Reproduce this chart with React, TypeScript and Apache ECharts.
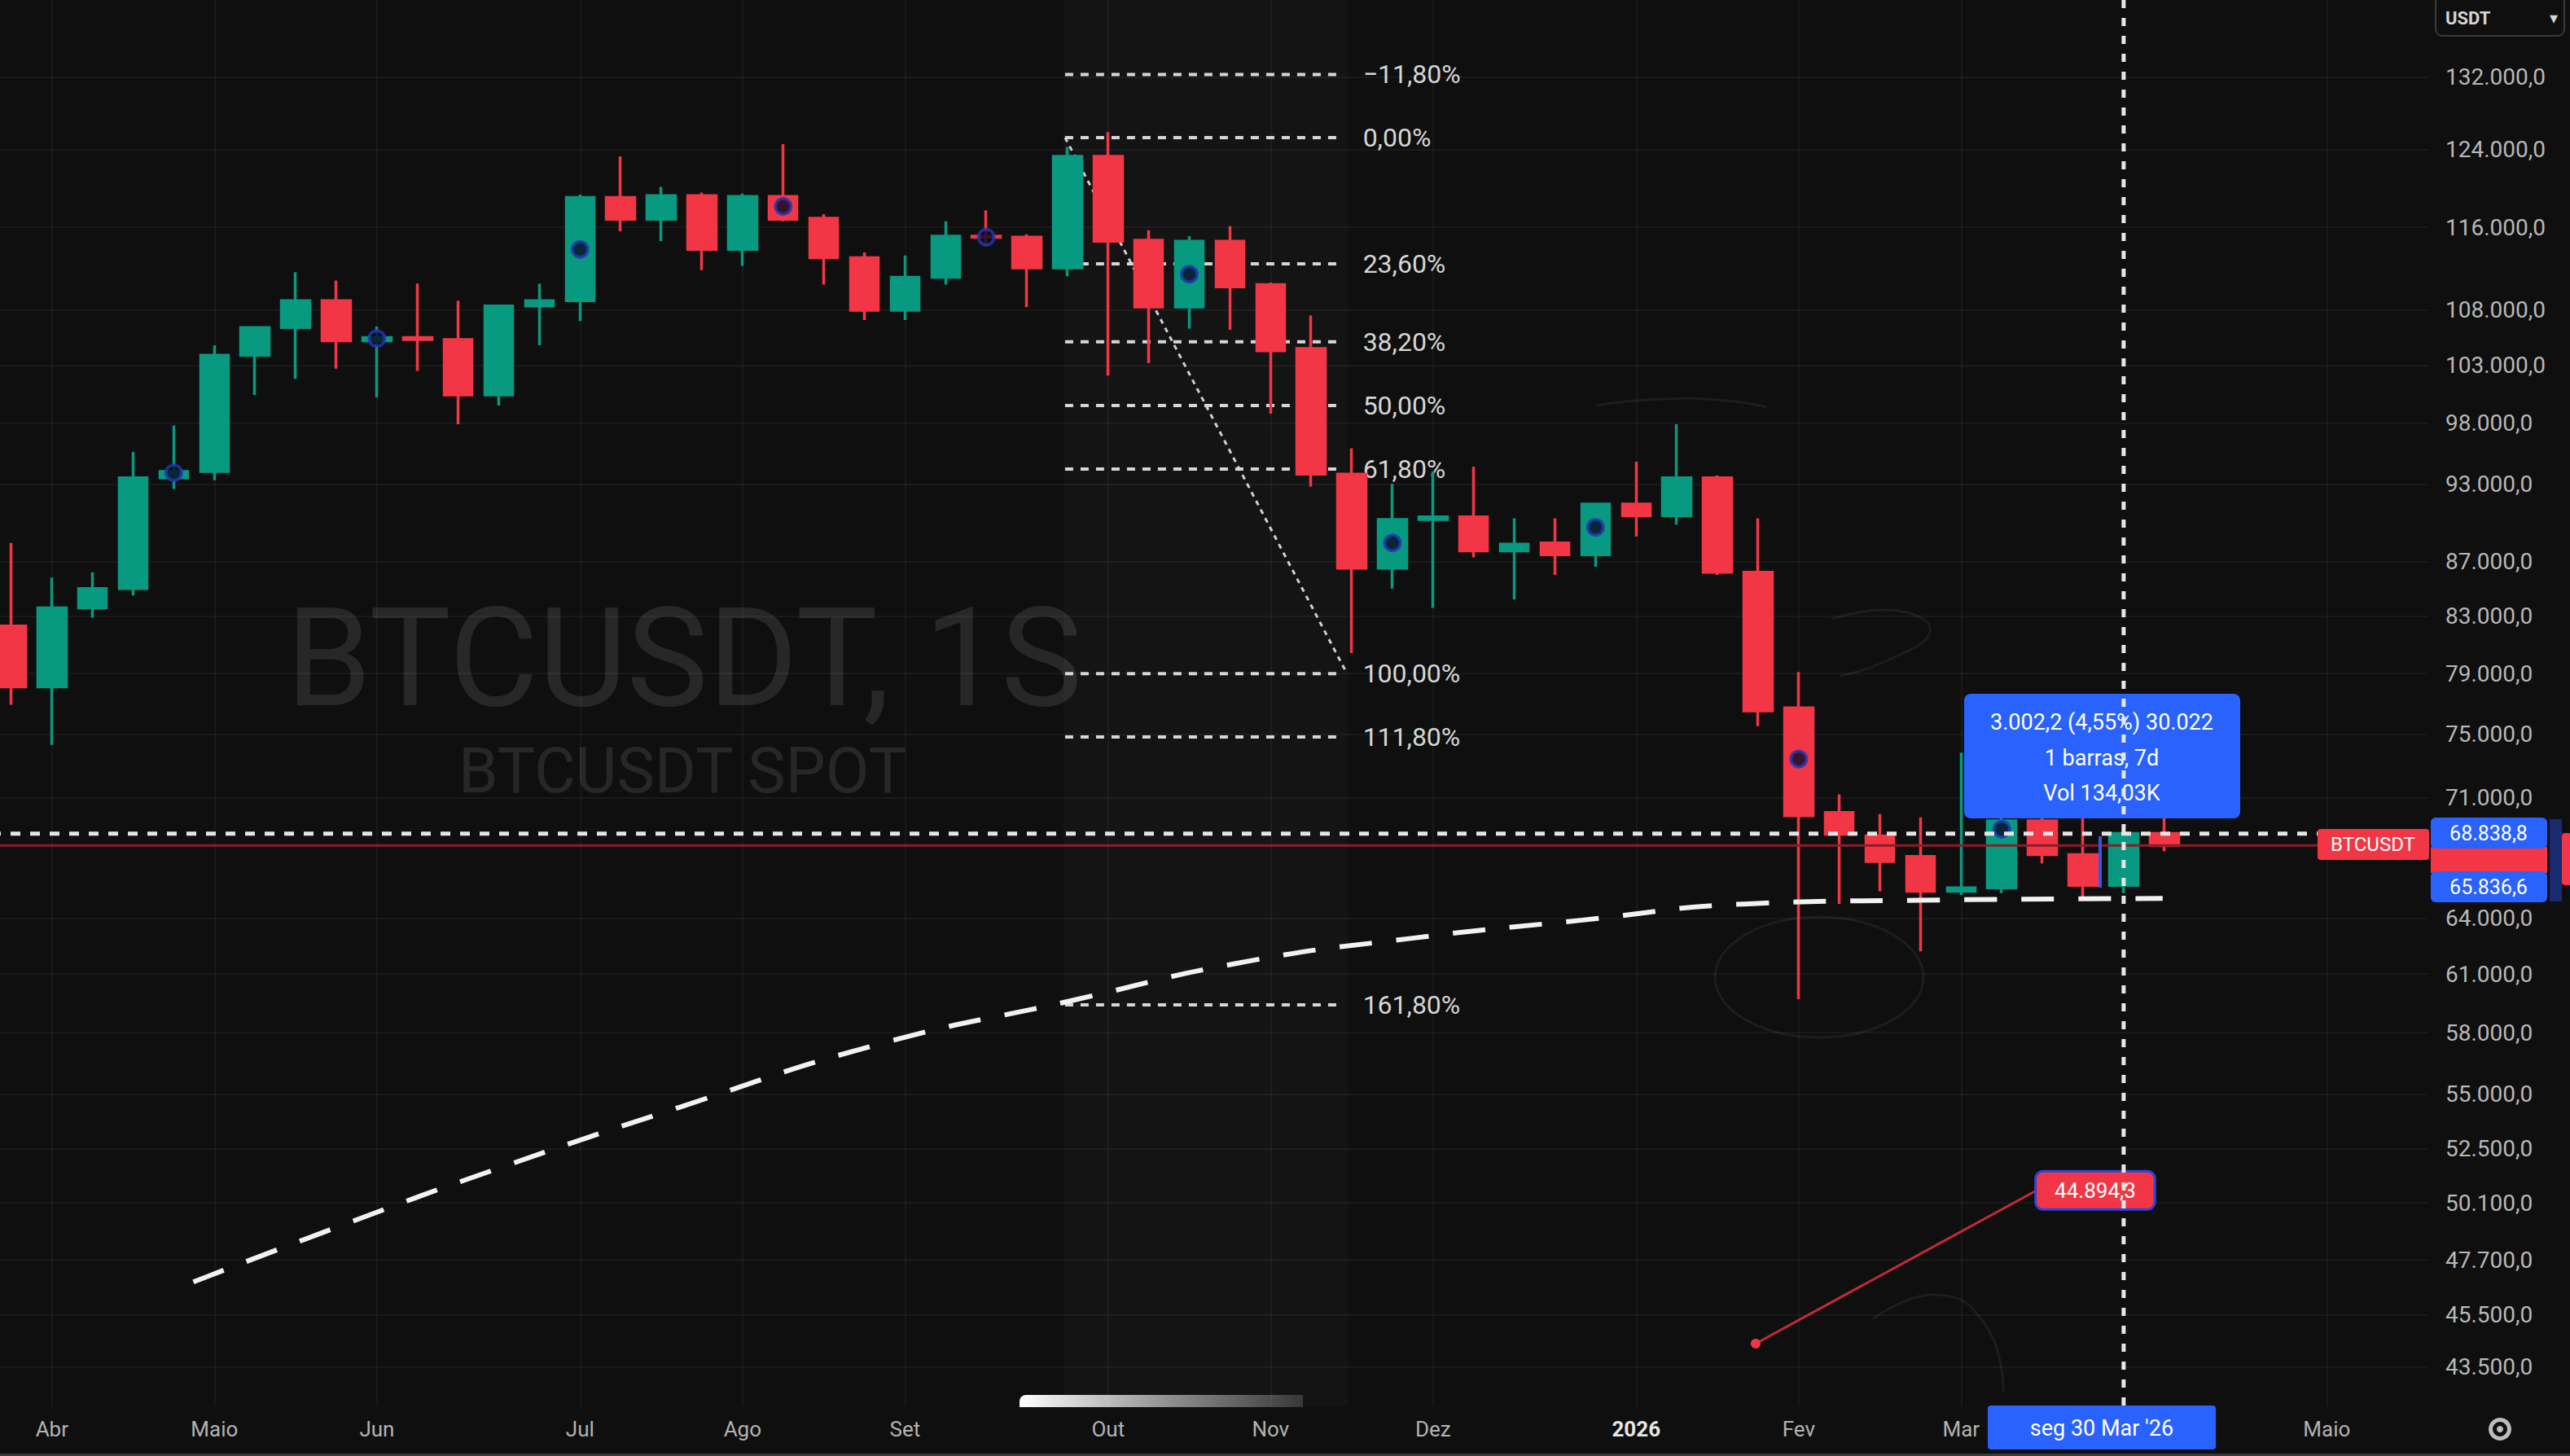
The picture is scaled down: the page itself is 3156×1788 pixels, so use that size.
import React, { useEffect, useRef } from 'react';
import * as echarts from 'echarts';

// Weekly bars (Monday dates)
const weeks = [
  '2025-03-31', '2025-04-07', '2025-04-14', '2025-04-21', '2025-04-28', '2025-05-05', '2025-05-12', '2025-05-19', '2025-05-26',
  '2025-06-02', '2025-06-09', '2025-06-16', '2025-06-23', '2025-06-30', '2025-07-07', '2025-07-14', '2025-07-21', '2025-07-28',
  '2025-08-04', '2025-08-11', '2025-08-18', '2025-08-25', '2025-09-01', '2025-09-08', '2025-09-15', '2025-09-22', '2025-09-29',
  '2025-10-06', '2025-10-13', '2025-10-20', '2025-10-27', '2025-11-03', '2025-11-10', '2025-11-17', '2025-11-24', '2025-12-01',
  '2025-12-08', '2025-12-15', '2025-12-22', '2025-12-29', '2026-01-05', '2026-01-12', '2026-01-19', '2026-01-26', '2026-02-02',
  '2026-02-09', '2026-02-16', '2026-02-23', '2026-03-02', '2026-03-09', '2026-03-16', '2026-03-23', '2026-03-30', '2026-04-06',
  '2026-04-13', '2026-04-20', '2026-04-27', '2026-05-04', '2026-05-11', '2026-05-18',
];

const opens = [
  82300, 78100, 83600, 85000, 93500, 94000, 103900, 106400, 108900, 105200, 105500, 105300, 100400, 108400, 108900,
  119000, 116800, 119200, 113800, 119100, 116900, 113000, 108000, 111100, 115100, 115000, 112000, 123300, 114700,
  108300, 114600, 110400, 104500, 93800, 86500, 90200, 90400, 87800, 88400, 87500, 91400, 90500, 93500, 86200,
  76700, 70100, 68700, 67500, 65500, 65700, 69600, 67600, 65840, 68840,
];
const highs = [
  88400, 85800, 86200, 95600, 97800, 104800, 106500, 111600, 110800, 106500, 110500, 108900, 108500, 110500, 119300,
  123300, 120100, 119500, 119400, 124600, 117300, 113500, 113200, 116600, 117700, 115300, 124300, 125900, 115700,
  115100, 116100, 110600, 107500, 95900, 93000, 94000, 94400, 90300, 90300, 91500, 94800, 97900, 93700, 90300,
  79100, 71200, 70000, 69800, 73800, 69900, 70000, 69900, 69300, 69900,
];
const lows = [
  76900, 74300, 82900, 84500, 92600, 93300, 100400, 101800, 102700, 100200, 102500, 97900, 99500, 104800, 107000,
  115600, 114600, 111800, 112200, 116600, 110400, 107100, 107100, 110400, 114200, 108300, 111200, 102100, 103200,
  106300, 106200, 98800, 92800, 80400, 85000, 83600, 87300, 84200, 86000, 86600, 88900, 89800, 86000, 75500,
  59700, 64800, 65500, 62200, 65300, 65400, 67100, 65100, 65400, 67800,
];
const closes = [
  78100, 83600, 85000, 93500, 94000, 103900, 106400, 108900, 105200, 105500, 105300, 100400, 108400, 108900, 119000,
  116800, 119200, 113800, 119100, 116800, 113000, 108000, 111100, 115100, 115000, 112000, 123300, 114600, 108300,
  114600, 110200, 104300, 93800, 86500, 90200, 90400, 87800, 88300, 87500, 91400, 90500, 93500, 86200, 76500,
  69900, 68800, 67200, 65500, 65700, 69600, 67600, 65840, 68840, 68140,
];

// Indicator markers (bar index, price)
const markerIdx = [4, 9, 14, 19, 24, 29, 34, 39, 44, 49];
const markerVal = [93900, 105400, 113800, 118100, 115000, 111400, 88400, 89600, 73400, 69100];

// Axis ticks
const priceTicks = [132000, 124000, 116000, 108000, 103000, 98000, 93000, 87000, 83000, 79000, 75000, 71000,
  64000, 61000, 58000, 55000, 52500, 50100, 47700, 45500, 43500];
const monthIdx = [1, 5, 9, 14, 18, 22, 27, 31, 35, 40, 44, 48, 57];
const monthNames = ['Abr', 'Maio', 'Jun', 'Jul', 'Ago', 'Set', 'Out', 'Nov', 'Dez', '2026', 'Fev', 'Mar', 'Maio'];

// Fibonacci retracement drawing
const fibStartX = 25.94;
const fibEndX = 32.71;
const fibPrices = [132300, 125300, 112400, 105100, 99500, 94200, 79000, 74800, 59400];
const fibTexts = ['−11,80%', '0,00%', '23,60%', '38,20%', '50,00%', '61,80%', '100,00%', '111,80%', '161,80%'];
const fibTrendX = [25.94, 32.88];
const fibTrendY = [125300, 79000];

// Big dashed curve (bar position, price)
const curveX = [4.48, 8.39, 11.82, 16.46, 21.3, 26.06, 30.25, 34.45, 38.68, 42.76, 46.95, 52.96];
const curveY = [46800, 49300, 51500, 54400, 57400, 59600, 61600, 62900, 63900, 64800, 65000, 65100];

// Crosshair & notes
const crossX = 52;
const crossPrice = 68838.8;
const measureLow = 65836.6;
const noteX = [42.94, 49.86];
const noteY = [44380, 50640];
const noteText = '44.894,3';

const Y_MIN = 42050;
const Y_MAX = 141050;
const FONT = 'Roboto, Inter, sans-serif';
const SHIFT = 11; // chart canvas starts 11px left of the page edge

const fmtPrice = (v: number) => {
  const [i, d] = v.toFixed(1).split('.');
  return i.replace(/\B(?=(\d{3})+(?!\d))/g, '.') + ',' + d;
};

const GREEN = '#089981';
const RED = '#f23645';
const BLUE = '#2962ff';

function buildOption() {
  const candles = opens.map((o, i) => [o, closes[i], lows[i], highs[i]]);
  const lastClose = closes[closes.length - 1];

  const fibSeries = fibPrices.map((p, k) => ({
    type: 'line',
    xAxisIndex: 1,
    yAxisIndex: 0,
    data: [[fibStartX, p], [fibEndX, p]],
    symbol: 'none',
    silent: true,
    z: 1,
    lineStyle: { color: '#d6d6d6', width: 4, type: [10, 9] },
    endLabel: {
      show: true,
      formatter: fibTexts[k],
      color: '#d6d6d6',
      fontSize: 32,
      fontFamily: FONT,
      distance: 28,
    },
  }));

  const children: any[] = [
    // watermark
    {
      type: 'text', z: -10, silent: true,
      style: { x: 840, y: 808, text: 'BTCUSDT, 1S', fill: 'rgba(255,255,255,0.10)', fontSize: 168, fontFamily: FONT, align: 'center', verticalAlign: 'middle' },
    },
    {
      type: 'text', z: -10, silent: true,
      style: { x: 838, y: 946, text: 'BTCUSDT SPOT', fill: 'rgba(255,255,255,0.10)', fontSize: 78, fontFamily: FONT, align: 'center', verticalAlign: 'middle' },
    },
    // time axis highlight blob
    {
      type: 'rect', z: 10, silent: true,
      shape: { x: 1252, y: 1713, width: 348, height: 15, r: [8, 0, 0, 0] },
      style: {
        fill: new echarts.graphic.LinearGradient(0, 0, 1, 0, [
          { offset: 0, color: 'rgba(255,255,255,1)' },
          { offset: 0.5, color: 'rgba(255,255,255,0.55)' },
          { offset: 1, color: 'rgba(255,255,255,0.15)' },
        ]),
      },
    },
    // measure tooltip
    {
      type: 'rect', z: 50, silent: true,
      shape: { x: 2412, y: 852, width: 339, height: 153, r: 8 },
      style: { fill: BLUE },
    },
    {
      type: 'text', z: 51, silent: true,
      style: { x: 2581, y: 887, text: '3.002,2 (4,55%) 30.022', fill: '#ffffff', fontSize: 27, fontFamily: FONT, align: 'center', verticalAlign: 'middle' },
    },
    {
      type: 'text', z: 51, silent: true,
      style: { x: 2581, y: 931, text: '1 barras, 7d', fill: '#ffffff', fontSize: 27, fontFamily: FONT, align: 'center', verticalAlign: 'middle' },
    },
    {
      type: 'text', z: 51, silent: true,
      style: { x: 2581, y: 974, text: 'Vol 134,03K', fill: '#ffffff', fontSize: 27, fontFamily: FONT, align: 'center', verticalAlign: 'middle' },
    },
    // measure marker line
    {
      type: 'line', z: 40, silent: true,
      shape: { x1: 2579, y1: 1027, x2: 2579, y2: 1090 },
      style: { stroke: '#3a55e0', lineWidth: 4 },
    },
    // BTCUSDT label
    {
      type: 'rect', z: 50, silent: true,
      shape: { x: 2846, y: 1018, width: 137, height: 38, r: 4 },
      style: { fill: RED },
    },
    {
      type: 'text', z: 51, silent: true,
      style: { x: 2914, y: 1037, text: 'BTCUSDT', fill: '#ffffff', fontSize: 24, fontFamily: FONT, align: 'center', verticalAlign: 'middle' },
    },
    // price axis labels
    {
      type: 'rect', z: 50, silent: true,
      shape: { x: 2985, y: 1040, width: 143, height: 32, r: 0 },
      style: { fill: RED },
    },
    {
      type: 'rect', z: 51, silent: true,
      shape: { x: 2985, y: 1004, width: 143, height: 38, r: 6 },
      style: { fill: BLUE },
    },
    {
      type: 'text', z: 52, silent: true,
      style: { x: 3056, y: 1023, text: fmtPrice(crossPrice), fill: '#ffffff', fontSize: 25, fontFamily: FONT, align: 'center', verticalAlign: 'middle' },
    },
    {
      type: 'rect', z: 51, silent: true,
      shape: { x: 2985, y: 1070, width: 143, height: 38, r: 6 },
      style: { fill: BLUE },
    },
    {
      type: 'text', z: 52, silent: true,
      style: { x: 3056, y: 1089, text: fmtPrice(measureLow), fill: '#ffffff', fontSize: 25, fontFamily: FONT, align: 'center', verticalAlign: 'middle' },
    },
    {
      type: 'rect', z: 50, silent: true,
      shape: { x: 3131, y: 1006, width: 15, height: 101 },
      style: { fill: '#1a2a6e' },
    },
    {
      type: 'rect', z: 50, silent: true,
      shape: { x: 3146, y: 1023, width: 12, height: 64, r: 4 },
      style: { fill: RED },
    },
    // date label
    {
      type: 'rect', z: 50, silent: true,
      shape: { x: 2441, y: 1726, width: 280, height: 54, r: 4 },
      style: { fill: BLUE },
    },
    {
      type: 'text', z: 51, silent: true,
      style: { x: 2581, y: 1754, text: "seg 30 Mar '26", fill: '#ffffff', fontSize: 27, fontFamily: FONT, align: 'center', verticalAlign: 'middle' },
    },
    // USDT selector
    {
      type: 'rect', z: 50, silent: true,
      shape: { x: 2991, y: -6, width: 158, height: 50, r: 8 },
      style: { fill: '#0f0f0f', stroke: '#3a3a3a', lineWidth: 2 },
    },
    {
      type: 'text', z: 51, silent: true,
      style: { x: 3003, y: 22, text: 'USDT', fill: '#d4d4d4', fontSize: 22, fontWeight: 'bold', fontFamily: FONT, align: 'left', verticalAlign: 'middle' },
    },
    {
      type: 'text', z: 51, silent: true,
      style: { x: 3136, y: 22, text: '▾', fill: '#d4d4d4', fontSize: 20, fontFamily: FONT, align: 'center', verticalAlign: 'middle' },
    },
    // gear icon
    {
      type: 'ring', z: 50, silent: true,
      shape: { cx: 3070, cy: 1755, r: 14, r0: 9 },
      style: { fill: '#bdbdbd' },
    },
    {
      type: 'circle', z: 50, silent: true,
      shape: { cx: 3070, cy: 1755, r: 4 },
      style: { fill: '#bdbdbd' },
    },
    // bottom border
    {
      type: 'rect', z: 50, silent: true,
      shape: { x: 0, y: 1785, width: 3156, height: 3 },
      style: { fill: '#3a3a3a' },
    },
    // faint hand drawings
    {
      type: 'ellipse', z: -5, silent: true,
      shape: { cx: 2234, cy: 1200, rx: 128, ry: 74 },
      style: { fill: 'none', stroke: '#1d1d1d', lineWidth: 3 },
    },
    {
      type: 'polyline', z: -5, silent: true,
      shape: { points: [[1960, 498], [2040, 490], [2120, 492], [2170, 500]], smooth: 0.5 },
      style: { fill: 'none', stroke: '#1d1d1d', lineWidth: 3 },
    },
    {
      type: 'polyline', z: -5, silent: true,
      shape: { points: [[2250, 760], [2330, 750], [2370, 775], [2320, 810], [2260, 830]], smooth: 0.5 },
      style: { fill: 'none', stroke: '#1d1d1d', lineWidth: 3 },
    },
    {
      type: 'polyline', z: -5, silent: true,
      shape: { points: [[2300, 1620], [2380, 1590], [2440, 1630], [2460, 1710]], smooth: 0.5 },
      style: { fill: 'none', stroke: '#1d1d1d', lineWidth: 3 },
    },
  ];

  return {
    animation: false,
    backgroundColor: '#0f0f0f',
    textStyle: { fontFamily: FONT },
    grid: { left: 0, right: 174, top: 0, bottom: 61 },
    xAxis: [
      {
        type: 'category',
        data: weeks,
        boundaryGap: true,
        axisLine: { show: false },
        axisTick: { show: false },
        splitLine: { show: false },
        axisLabel: {
          interval: 0,
          color: '#b3b3b3',
          fontSize: 26,
          fontFamily: FONT,
          margin: 15,
          formatter: (_v: string, idx: number) => {
            const k = monthIdx.indexOf(idx);
            if (k < 0) return '';
            return monthNames[k] === '2026' ? '{y|2026}' : monthNames[k];
          },
          rich: { y: { color: '#e6e6e6', fontWeight: 'bold', fontSize: 26, fontFamily: FONT } },
        },
      },
      {
        type: 'value',
        position: 'top',
        min: -0.5,
        max: weeks.length - 0.5,
        axisLine: { show: false },
        axisLabel: { show: false },
        axisTick: { show: false, customValues: monthIdx },
        splitLine: { show: true, lineStyle: { color: 'rgba(255,255,255,0.045)', width: 2 } },
      },
    ],
    yAxis: [
      {
        type: 'log',
        logBase: 10,
        position: 'right',
        min: Y_MIN,
        max: Y_MAX,
        axisLine: { show: false },
        axisTick: { show: false, customValues: priceTicks },
        axisLabel: {
          customValues: priceTicks,
          formatter: (v: number) => fmtPrice(v),
          color: '#b8b8b8',
          fontSize: 28,
          fontFamily: FONT,
          margin: 21,
          align: 'left',
        },
        splitLine: { show: true, lineStyle: { color: 'rgba(255,255,255,0.045)', width: 2 } },
      },
    ],
    series: [
      // fib trend line + background band
      {
        type: 'line',
        xAxisIndex: 1,
        yAxisIndex: 0,
        data: [[fibTrendX[0], fibTrendY[0]], [fibTrendX[1], fibTrendY[1]]],
        symbol: 'none',
        silent: true,
        z: 1,
        lineStyle: { color: '#d0d0d0', width: 3, type: [6, 6] },
        markArea: {
          silent: true,
          itemStyle: { color: 'rgba(255,255,255,0.025)' },
          data: [[{ xAxis: 25.9 }, { xAxis: 32.9 }]],
        },
      },
      ...fibSeries,
      {
        type: 'candlestick',
        xAxisIndex: 0,
        yAxisIndex: 0,
        data: candles,
        barWidth: 35,
        z: 3,
        itemStyle: {
          color: GREEN,
          color0: RED,
          borderColor: GREEN,
          borderColor0: RED,
          borderWidth: 3.5,
        },
      },
      {
        type: 'scatter',
        xAxisIndex: 0,
        yAxisIndex: 0,
        data: markerIdx.map((x, k) => [x, markerVal[k]]),
        symbol: 'circle',
        symbolSize: 19,
        z: 4,
        itemStyle: { color: '#070a24', borderColor: '#2337b0', borderWidth: 4 },
      },
      // last price line
      {
        type: 'line',
        xAxisIndex: 1,
        data: [[-0.5, lastClose], [weeks.length - 0.5, lastClose]],
        symbol: 'none',
        silent: true,
        z: 4,
        lineStyle: { color: '#8c1d28', width: 3 },
      },
      // big dashed curve
      {
        type: 'line',
        xAxisIndex: 1,
        data: curveX.map((x, k) => [x, curveY[k]]),
        smooth: true,
        symbol: 'none',
        silent: true,
        z: 5,
        lineStyle: { color: '#f2f2f2', width: 6, type: [40, 30] },
      },
      // price note line
      {
        type: 'line',
        xAxisIndex: 1,
        data: [
          { value: [noteX[0], noteY[0]], symbol: 'circle', symbolSize: 12 },
          { value: [noteX[1], noteY[1]], symbol: 'none' },
        ],
        showSymbol: true,
        silent: true,
        z: 5,
        itemStyle: { color: '#f23645' },
        lineStyle: { color: '#c8283a', width: 3 },
        endLabel: {
          show: true,
          formatter: noteText,
          color: '#ffffff',
          fontSize: 26,
          fontFamily: FONT,
          backgroundColor: RED,
          borderColor: '#2b45d8',
          borderWidth: 3,
          borderRadius: 8,
          padding: [9, 22],
          distance: 0,
        },
      },
      // crosshair horizontal
      {
        type: 'line',
        xAxisIndex: 1,
        data: [[-0.5, crossPrice], [weeks.length - 0.5, crossPrice]],
        symbol: 'none',
        silent: true,
        z: 6,
        lineStyle: { color: '#e6e6e6', width: 5, type: [12, 12] },
      },
      // crosshair vertical
      {
        type: 'line',
        xAxisIndex: 1,
        data: [[crossX, Y_MAX], [crossX, Y_MIN]],
        symbol: 'none',
        silent: true,
        z: 60,
        lineStyle: { color: '#e6e6e6', width: 5, type: [10, 12] },
      },
    ],
    graphic: [{ type: 'group', x: SHIFT, y: 0, children }],
  };
}

export default function App() {
  const ref = useRef<HTMLDivElement>(null);
  useEffect(() => {
    document.documentElement.style.overflow = 'hidden';
    document.body.style.margin = '0';
    document.body.style.overflow = 'hidden';
    document.body.style.background = '#0f0f0f';
    const chart = echarts.init(ref.current as HTMLDivElement, null, { renderer: 'svg', width: 3156 + SHIFT, height: 1788 });
    chart.setOption(buildOption() as any);
    return () => chart.dispose();
  }, []);
  return (
    <div style={{ width: 3156, height: 1788, overflow: 'hidden', background: '#0f0f0f' }}>
      <div ref={ref} style={{ width: 3156 + SHIFT, height: 1788, marginLeft: -SHIFT }} />
    </div>
  );
}
